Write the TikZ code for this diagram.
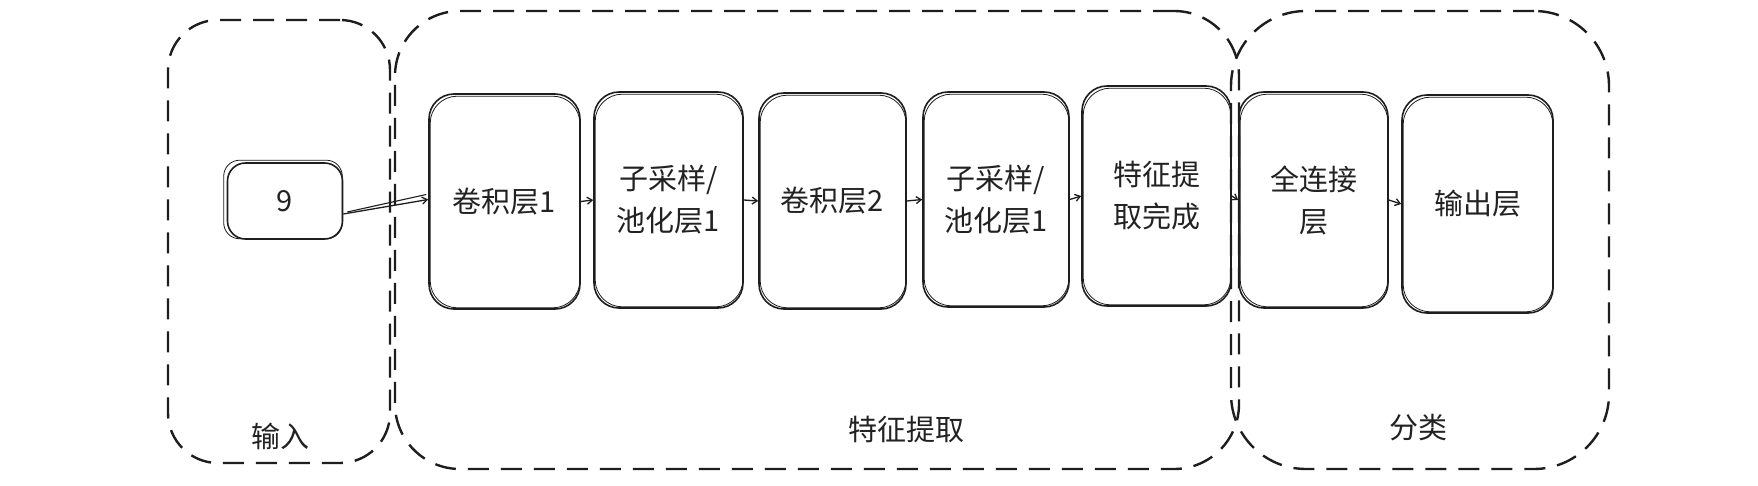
\documentclass[tikz,border=0pt]{standalone}
\usepackage{fontspec}
\setmainfont{Noto Sans CJK SC}
\usetikzlibrary{arrows.meta,calc}
\definecolor{ink}{HTML}{1E1E1E}
\definecolor{txt}{HTML}{222222}
\begin{document}
\begin{tikzpicture}[x=1pt,y=-1pt,
  box/.style={draw=ink, line width=1.6pt, rounded corners=25pt, align=center, inner sep=0pt,
    font=\fontsize{29}{42}\selectfont, text=txt},
  grp/.style={draw=ink, line width=2.4pt, dash pattern=on 21pt off 12pt, rounded corners=65pt, inner sep=0pt},
  glabel/.style={font=\fontsize{29}{32}\selectfont, text=txt},
  conn/.style={draw=ink, line width=1.3pt, -{Straight Barb[length=5pt,width=7pt]}},
]
\useasboundingbox (0,0) rectangle (1758,486);
\fill[white] (0,0) rectangle (1758,486);

% groups
\node[grp, minimum width=222pt, minimum height=443pt, rounded corners=50pt] (gin) at (279,241.5) {};
\node[grp, minimum width=844pt, minimum height=458pt] (gfeat) at (817,240) {};
\node[grp, minimum width=378pt, minimum height=458pt, rounded corners=75pt] (gcls) at (1420,240) {};
\node[glabel] (lin) at (280,436) {输入};
\node[glabel] (lfeat) at (906,429) {特征提取};
\node[glabel] (lcls) at (1418,428) {分类};

% boxes
\node[box, minimum width=115pt, minimum height=76pt, rounded corners=18pt] (n9) at (285,201) {9};
\node[box, minimum width=151pt, minimum height=215pt] (c1) at (504.5,201.5) {卷积层1};
\node[box, minimum width=149pt, minimum height=216pt] (p1) at (668.5,200) {子采样/\\池化层1};
\node[box, minimum width=147pt, minimum height=216pt] (c2) at (832.5,201) {卷积层2};
\node[box, minimum width=146pt, minimum height=215pt] (p2) at (996,199.5) {子采样/\\池化层1};
\node[box, minimum width=149pt, minimum height=220pt] (fe) at (1156.5,196) {特征提\\取完成};
\node[box, minimum width=149pt, minimum height=216pt] (fc) at (1313.5,200) {全连接\\层};
\node[box, minimum width=151pt, minimum height=218pt] (out) at (1477.5,204) {输出层};

% sketchy second outlines
\foreach \n in {c1,p1,c2,p2,fe,fc,out}
  \draw[ink, line width=0.8pt, rounded corners=27pt] ($(\n.south west)+(2,-2)$) rectangle ($(\n.north east)+(-1,3)$);
\draw[ink, line width=0.8pt, rounded corners=16pt] ($(n9.south west)+(-3,-1)$) rectangle ($(n9.north east)+(-1,-2)$);

% connectors
\draw[conn] ($(n9.east)+(0,13)$) -- ($(c1.west)+(0,-2)$);
\draw[ink, line width=1.1pt] ($(n9.east)+(4,11)$) -- ($(c1.west)+(-2,-7)$);
\draw[conn] (c1.east) -- (p1.west);
\draw[conn] (p1.east) -- (c2.west);
\draw[conn] (c2.east) -- (p2.west);
\draw[conn] (p2.east) -- (fe.west);
\draw[conn] (fe.east) -- (fc.west);
\draw[conn] (fc.east) -- (out.west);
\end{tikzpicture}
\end{document}
